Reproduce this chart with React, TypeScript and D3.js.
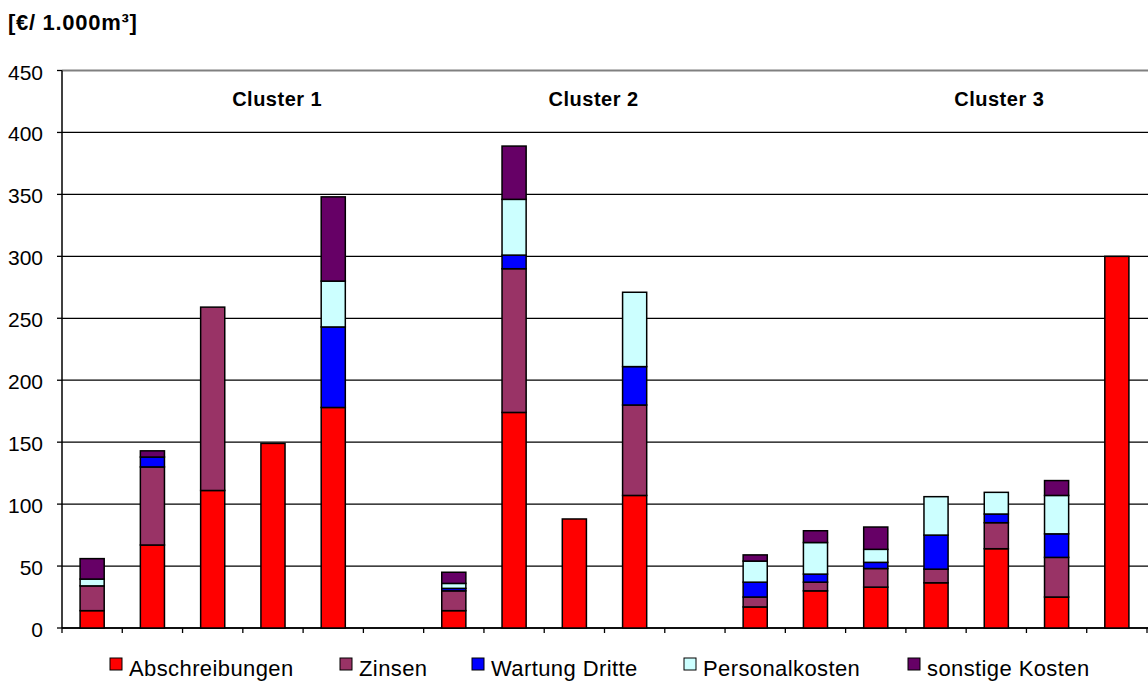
import React from "react";
import * as d3 from "d3";

const categories = ["1", "2", "3", "4", "5", "6", "7", "8", "9", "10", "11", "12", "13", "14", "15", "16", "17", "18"];
const abschreibungen = [14, 67, 111, 149, 178, 0, 14, 174, 88, 107, 0, 17, 30, 33, 36.5, 64, 25, 300];
const zinsen = [20, 63, 148, 0, 0, 0, 16, 116, 0, 73, 0, 8, 7, 15, 11, 21, 32, 0];
const wartungDritte = [0, 8, 0, 0, 65, 0, 2, 11, 0, 31, 0, 12, 6.5, 5, 27.5, 7, 19, 0];
const personalkosten = [5.5, 0, 0, 0, 37, 0, 4, 45, 0, 60, 0, 17, 25.5, 10.5, 31, 17.5, 31, 0];
const sonstigeKosten = [16.5, 5, 0, 0, 68, 0, 9, 43, 0, 0, 0, 5, 9.5, 18, 0, 0, 12, 0];

const seriesNames = ["Abschreibungen", "Zinsen", "Wartung Dritte", "Personalkosten", "sonstige Kosten"];
const seriesColors = ["#FF0000", "#993366", "#0000FF", "#CCFFFF", "#660066"];
const yTicks = [0, 50, 100, 150, 200, 250, 300, 350, 400, 450];
const clusterLabels = ["Cluster 1", "Cluster 2", "Cluster 3"];
const clusterCenters = [3.57, 8.82, 15.55]; // in category-slot units

const FONT = "Arial, 'Liberation Sans', sans-serif";

export default function App() {
  const width = 1148;
  const height = 682;
  const left = 62;
  const right = 1147;
  const top = 70.5;
  const bottom = 628;

  const x = d3.scaleBand<string>().domain(categories).range([left, right]).paddingInner(0.6).paddingOuter(0.3);
  const y = d3.scaleLinear().domain([0, 450]).range([bottom, top]);
  const step = x.step();

  const rows = categories.map((c, i) => ({
    cat: c,
    Abschreibungen: abschreibungen[i],
    Zinsen: zinsen[i],
    "Wartung Dritte": wartungDritte[i],
    Personalkosten: personalkosten[i],
    "sonstige Kosten": sonstigeKosten[i],
  }));
  const stack = d3.stack<any>().keys(seriesNames);
  const stacked = stack(rows);

  const slotX = (u: number) => left + u * step;

  const legendX = [110, 340, 472, 684, 908];

  return (
    <svg width={width} height={height} style={{ position: "absolute", left: 0, top: 0, background: "#fff" }} fontFamily={FONT}>
      <rect x={0} y={0} width={width} height={height} fill="#fff" />
      <text x={8} y={30} fontSize={22} fontWeight="bold" letterSpacing={0.7} fill="#000">[€/ 1.000m³]</text>

      {/* gridlines */}
      {yTicks.map((t) => (
        <line key={t} x1={left} x2={width} y1={y(t)} y2={y(t)} stroke={t === 450 ? "#808080" : "#000"} strokeWidth={t === 450 ? 2 : 1.3} />
      ))}
      {/* y axis */}
      <line x1={left} x2={left} y1={top} y2={bottom} stroke="#000" strokeWidth={1.5} />
      {yTicks.map((t) => (
        <g key={"yt" + t}>
          <line x1={left - 5} x2={left} y1={y(t)} y2={y(t)} stroke="#000" strokeWidth={1.3} />
          <text x={43} y={y(t) + 9} textAnchor="end" fontSize={21} fill="#000">{t}</text>
        </g>
      ))}
      {/* x axis */}
      <line x1={left} x2={width} y1={bottom} y2={bottom} stroke="#000" strokeWidth={1.5} />
      {d3.range(categories.length + 1).map((i) => (
        <line key={"xt" + i} x1={slotX(i)} x2={slotX(i)} y1={bottom} y2={bottom + 5} stroke="#000" strokeWidth={1.3} />
      ))}

      {/* bars */}
      {stacked.map((s, si) => (
        <g key={s.key}>
          {s.map((d, i) => {
            const h = y(d[0]) - y(d[1]);
            if (h <= 0) return null;
            return (
              <rect
                key={i}
                x={x(categories[i])!}
                y={y(d[1])}
                width={x.bandwidth()}
                height={h}
                fill={seriesColors[si]}
                stroke="#000"
                strokeWidth={1.5}
              />
            );
          })}
        </g>
      ))}

      {/* cluster labels */}
      {clusterLabels.map((c, i) => (
        <text key={c} x={slotX(clusterCenters[i])} y={106} textAnchor="middle" fontSize={20} fontWeight="bold" letterSpacing={0.5} fill="#000">{c}</text>
      ))}

      {/* legend */}
      {seriesNames.map((n, i) => (
        <g key={n}>
          <rect x={legendX[i]} y={658} width={12} height={12} fill={seriesColors[i]} stroke="#000" strokeWidth={1} />
          <text x={legendX[i] + 19} y={676} fontSize={22} letterSpacing={0.4} fill="#000">{n}</text>
        </g>
      ))}
    </svg>
  );
}
